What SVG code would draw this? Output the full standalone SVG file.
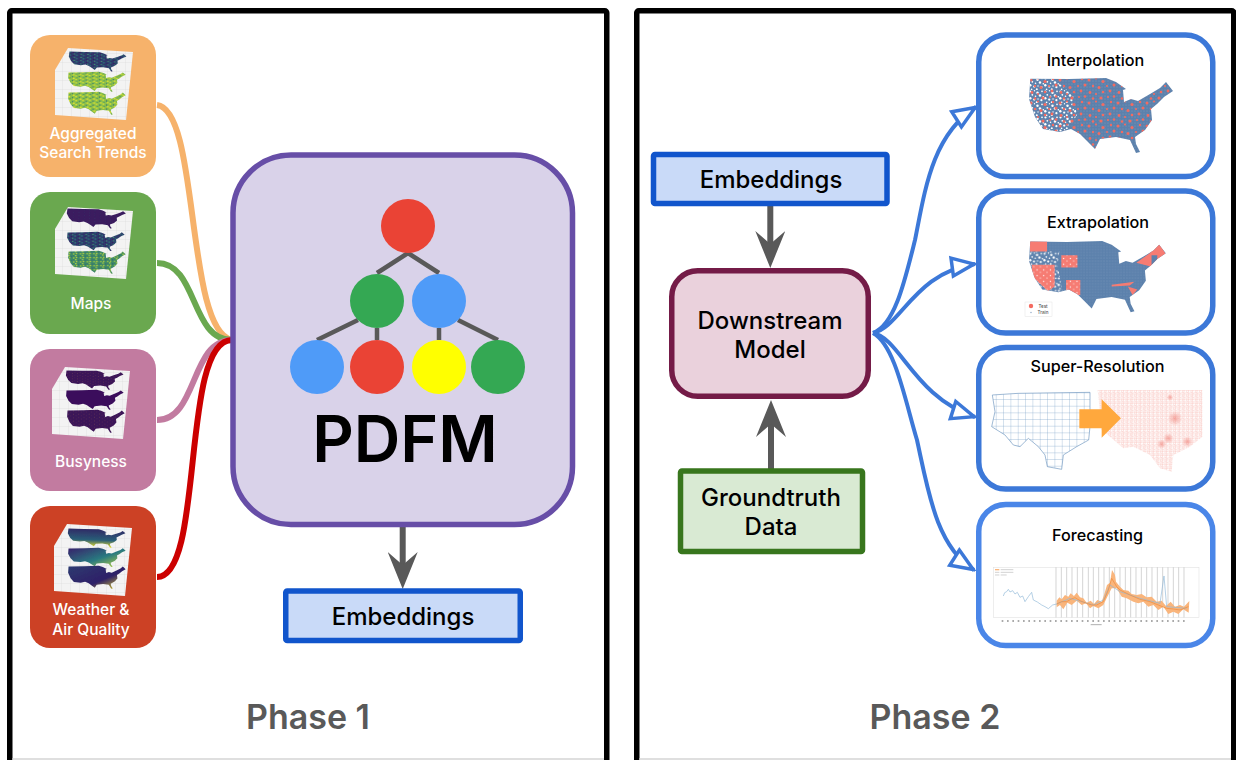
<svg xmlns="http://www.w3.org/2000/svg" width="1236" height="760" viewBox="0 0 1236 760">
<style>
text{font-family:"Inter","Liberation Sans",sans-serif;font-weight:500;text-anchor:middle;fill:#000}
.frame{fill:#fff;stroke:#000;stroke-width:5.5}
.src{stroke:none}
.lbl{fill:#fff;font-size:15.5px}
.emb{fill:#c9daf8;stroke:#1155cc;stroke-width:5.5}
.t23{font-size:24px}
.ttl{font-size:16.2px}
.phase{font-size:34px;font-weight:600;fill:#595959}
.out{fill:#fff;stroke:#3c78d8;stroke-width:5.5}
.wire{fill:none;stroke-width:6}
.gw{fill:none;stroke:#595959;stroke-width:6}
.bw{fill:none;stroke:#3c78d8;stroke-width:4}
.tree{stroke:#595959;stroke-width:4.5;fill:none}
</style>
<defs>
<filter id="soft" x="-5%" y="-5%" width="110%" height="110%"><feGaussianBlur stdDeviation="0.5"/></filter>
<path id="usa" d="M1.3 1.7L40 2L77 1L87 5L97 12L94 13L95 25L102 22L109 24L121 17L131 11L137 5L144 14L135 20L128 27L122 32L123 43L116 53L106 60L107 67L111 75L107 76L101 63L87 60L71 62L66 72L59 65L51 57L42 52L31 55L14 52L6 40L0 22Z"/>
<clipPath id="usaClip"><use href="#usa"/></clipPath>
<marker id="gh" viewBox="0 0 37 30" refX="19" refY="15" markerWidth="37" markerHeight="30" markerUnits="userSpaceOnUse" orient="auto"><path d="M0 0L37 15L0 30L13 15Z" fill="#595959"/></marker>
<marker id="bh" viewBox="0 0 28 24" refX="26" refY="12" markerWidth="28" markerHeight="24" markerUnits="userSpaceOnUse" orient="auto"><path d="M3 3L25 12L3 21Z" fill="#fff" stroke="#3c78d8" stroke-width="3.5"/></marker>
<pattern id="pGreen" width="17" height="13" patternUnits="userSpaceOnUse"><rect width="17" height="13" fill="#3f8a66"/><circle cx="2" cy="2" r="2.2" fill="#b5d43c"/><circle cx="9" cy="5" r="1.8" fill="#2e5c78"/><circle cx="4" cy="9" r="2" fill="#d3dc35"/><circle cx="14" cy="10" r="2.4" fill="#9cc844"/><circle cx="13" cy="2" r="1.5" fill="#2a6d74"/></pattern>
<pattern id="pYellow" width="17" height="13" patternUnits="userSpaceOnUse"><rect width="17" height="13" fill="#8cc04a"/><circle cx="3" cy="2" r="2.4" fill="#dfe02f"/><circle cx="11" cy="5" r="2" fill="#2a6d74"/><circle cx="5" cy="9" r="1.7" fill="#3f8a66"/><circle cx="14" cy="11" r="2.5" fill="#dfe02f"/></pattern>
<pattern id="pDark" width="17" height="13" patternUnits="userSpaceOnUse"><rect width="17" height="13" fill="#2c3f6e"/><circle cx="3" cy="3" r="2" fill="#2f8f78"/><circle cx="11" cy="5" r="2.2" fill="#3a1a5c"/><circle cx="6" cy="10" r="1.8" fill="#3a1a5c"/><circle cx="14" cy="11" r="1.7" fill="#4aa56e"/></pattern>
<pattern id="pPurple" width="13" height="11" patternUnits="userSpaceOnUse"><rect width="13" height="11" fill="#3a1a5e"/><circle cx="4" cy="5" r="1.6" fill="#2f3f6c"/></pattern>
<pattern id="pPlum" width="13" height="11" patternUnits="userSpaceOnUse"><rect width="13" height="11" fill="#3a1458"/><circle cx="3" cy="3" r="1.1" fill="#a06a50"/><circle cx="9" cy="8" r="1" fill="#8a5a58"/></pattern>
<linearGradient id="gWeather1" x1="0" y1="0" x2="0" y2="1"><stop offset="0" stop-color="#2f2a66"/><stop offset=".6" stop-color="#2b5f78"/><stop offset="1" stop-color="#e8dc2a"/></linearGradient>
<linearGradient id="gWeather2" x1="0" y1="0" x2="1" y2="1"><stop offset="0" stop-color="#36206a"/><stop offset=".55" stop-color="#2a7a80"/><stop offset="1" stop-color="#c9dc38"/></linearGradient>
<linearGradient id="gWeather3" x1="0" y1="0" x2="1" y2="1"><stop offset="0" stop-color="#2c3a70"/><stop offset=".6" stop-color="#2f2068"/><stop offset="1" stop-color="#f0e024"/></linearGradient>
<pattern id="boxGrid" width="9" height="9" patternUnits="userSpaceOnUse"><rect width="9" height="9" fill="#f3f3f3"/><path d="M9 0V9M0 9H9" stroke="#d6d6d6" stroke-width=".6"/></pattern>
<g id="cube"><path d="M68 48L133 52L126 120L55 115L55 70Z" fill="url(#boxGrid)"/></g>
<pattern id="pBlue" width="3" height="3" patternUnits="userSpaceOnUse"><rect width="3" height="3" fill="#5c81ac"/><circle cx="1" cy="1" r=".5" fill="#7f9cc0"/></pattern>
<pattern id="pRedSpot" width="29" height="23" patternUnits="userSpaceOnUse"><g fill="#f46a60"><circle cx="2" cy="3" r="1.5"/><circle cx="9" cy="1.5" r="1.1"/><circle cx="16" cy="4.5" r="1.6"/><circle cx="24" cy="2" r="1.2"/><circle cx="6" cy="9" r="1.2"/><circle cx="12" cy="10.5" r="1.5"/><circle cx="20" cy="9" r="1.1"/><circle cx="27" cy="8" r="1.5"/><circle cx="3" cy="15.5" r="1.4"/><circle cx="9" cy="17" r="1.1"/><circle cx="16" cy="15" r="1.3"/><circle cx="23" cy="14" r="1.4"/><circle cx="6" cy="21.5" r="1.3"/><circle cx="14" cy="21" r="1.6"/><circle cx="21" cy="20" r="1.1"/><circle cx="27" cy="19.5" r="1.3"/></g></pattern>
<pattern id="pWhite" width="15" height="13" patternUnits="userSpaceOnUse"><g fill="#fff"><circle cx="1.5" cy="1.5" r="1.1"/><circle cx="5.5" cy=".8" r=".7"/><circle cx="8.5" cy="2.8" r="1.2"/><circle cx="13" cy="1.4" r=".8"/><circle cx="3.3" cy="4.8" r=".9"/><circle cx="6.5" cy="6.2" r=".8"/><circle cx="11" cy="5.5" r="1.2"/><circle cx="14.3" cy="6.8" r=".8"/><circle cx="1.3" cy="8.2" r="1.2"/><circle cx="5.2" cy="9.6" r="1.1"/><circle cx="9" cy="9" r=".7"/><circle cx="12.4" cy="10.2" r="1.1"/><circle cx="2.6" cy="12.3" r=".8"/><circle cx="7.8" cy="12.3" r="1"/></g></pattern>
<pattern id="pRedW" width="7" height="6" patternUnits="userSpaceOnUse"><rect width="7" height="6" fill="#f67c73"/><circle cx="1.5" cy="1.5" r=".7" fill="#fff"/><circle cx="5" cy="4" r=".6" fill="#fff"/></pattern>
<pattern id="pCounty" width="22" height="20" patternUnits="userSpaceOnUse"><path d="M22 0V20M0 20H22" stroke="#6f97c0" stroke-width="1.8" fill="none"/></pattern>
<pattern id="pTract" width="13" height="13" patternUnits="userSpaceOnUse"><rect width="13" height="13" fill="#fff"/><path d="M0 3L6 1L13 5M4 13L6 1M0 8L13 9M10 0L9 13" stroke="#f8b9b2" stroke-width="1.2" fill="none"/></pattern>
<radialGradient id="glow"><stop offset="0" stop-color="#ef7a70" stop-opacity=".6"/><stop offset="1" stop-color="#ef7a70" stop-opacity="0"/></radialGradient>
</defs>

<rect width="1236" height="760" fill="#fff"/>
<g id="frames">
<rect class="frame" x="9.75" y="10.75" width="597" height="760" rx="2"/>
<rect class="frame" x="636.75" y="10.75" width="597" height="760" rx="2"/>
<rect x="12.5" y="758" width="591.5" height="2" fill="#dfdfdf"/>
<rect x="639.5" y="758" width="591.5" height="2" fill="#dfdfdf"/>
</g>

<g id="connectors">
<path class="wire" stroke="#f6b26b" d="M157 105C200 110 185 330 232 340"/>
<path class="wire" stroke="#6aa84f" d="M157 263C198 263 190 340 232 340"/>
<path class="wire" stroke="#c27ba0" d="M157 420C198 420 190 340 232 340"/>
<path class="wire" stroke="#cc0000" d="M157 577C205 577 180 340 232 340"/>
<path class="gw" d="M402.7 524V571" marker-end="url(#gh)"/>
<path class="gw" d="M770.3 204V250" marker-end="url(#gh)"/>
<path class="gw" d="M771 470V418" marker-end="url(#gh)"/>
<path class="bw" d="M873 333C895 325 905 280 915 240C925 190 932 135 976 107" marker-end="url(#bh)"/>
<path class="bw" d="M873 333C900 328 915 272 975 264" marker-end="url(#bh)"/>
<path class="bw" d="M873 333C900 338 915 398 975 417" marker-end="url(#bh)"/>
<path class="bw" d="M873 333C895 345 905 400 917 440C928 490 936 546 974 570" marker-end="url(#bh)"/>
</g>

<g id="node-search">
<rect class="src" x="30" y="35" width="126" height="142" rx="20" fill="#f6b26b"/>
<g filter="url(#soft)"><use href="#cube"/>
<use href="#usa" fill="url(#pDark)" transform="translate(69,51) rotate(2) scale(.4,.25)"/>
<use href="#usa" fill="url(#pYellow)" transform="translate(68,72) rotate(-1) scale(.4,.27)"/>
<use href="#usa" fill="url(#pYellow)" transform="translate(68,92) rotate(-1) scale(.4,.31)"/></g>
<text class="lbl" x="93" y="138.5">Aggregated</text><text class="lbl" x="93" y="158">Search Trends</text>
</g>
<g id="node-maps">
<rect class="src" x="30" y="192" width="126" height="142" rx="20" fill="#6aa84f"/>
<g filter="url(#soft)"><use href="#cube" y="159"/>
<use href="#usa" fill="url(#pPurple)" transform="translate(67,208) rotate(2) scale(.41,.25)"/>
<use href="#usa" fill="url(#pDark)" transform="translate(67,232) rotate(-1) scale(.4,.26)"/>
<use href="#usa" fill="url(#pGreen)" transform="translate(68,251) rotate(-1) scale(.4,.31)"/></g>
<text class="lbl" x="91" y="309">Maps</text>
</g>
<g id="node-busyness">
<rect class="src" x="30" y="349" width="126" height="142" rx="20" fill="#c27ba0"/>
<g filter="url(#soft)"><use href="#cube" x="-3" y="319"/>
<use href="#usa" fill="url(#pPlum)" transform="translate(66,370) rotate(1) scale(.4,.25)"/>
<use href="#usa" fill="#3a0f5c" transform="translate(66,390) rotate(-1) scale(.4,.27)"/>
<use href="#usa" fill="url(#pPlum)" transform="translate(67,410) rotate(-1) scale(.4,.31)"/></g>
<text class="lbl" x="91" y="467">Busyness</text>
</g>
<g id="node-weather">
<rect class="src" x="30" y="506" width="126" height="142" rx="20" fill="#cc4125"/>
<g filter="url(#soft)"><use href="#cube" x="-1" y="476"/>
<use href="#usa" fill="url(#gWeather1)" transform="translate(68,528) rotate(2) scale(.4,.24)"/>
<use href="#usa" fill="url(#gWeather2)" transform="translate(68,548) rotate(-1) scale(.4,.26)"/>
<use href="#usa" fill="url(#gWeather3)" transform="translate(68,566) rotate(-1) scale(.4,.31)"/></g>
<text class="lbl" x="91" y="615">Weather &amp;</text><text class="lbl" x="91" y="634.5">Air Quality</text>
</g>

<g id="node-pdfm">
<rect x="233" y="155" width="339.5" height="369.5" rx="58" fill="#d9d2e9" stroke="#674ea7" stroke-width="5.5"/>
<path class="tree" d="M377 273L408 253L439 273M358 320L317 340M377 328V340M439 328V340M458 320L498 340"/>
<circle cx="408" cy="226" r="27" fill="#ea4335"/>
<circle cx="377" cy="301" r="27" fill="#34a853"/><circle cx="439" cy="301" r="27" fill="#4f9bf8"/>
<circle cx="317" cy="367" r="27" fill="#4f9bf8"/><circle cx="377" cy="367" r="27" fill="#ea4335"/>
<circle cx="439" cy="367" r="27" fill="#ffff00"/><circle cx="498" cy="367" r="27" fill="#34a853"/>
<text x="405" y="462" style="font-size:64.5px;font-weight:600">PDFM</text>
</g>

<g id="node-embeddings-1">
<rect class="emb" x="285.75" y="591" width="234.5" height="49.5" rx="1.5"/>
<text class="t23" x="403" y="624.5">Embeddings</text>
</g>
<text class="phase" x="308" y="729">Phase 1</text>

<g id="node-embeddings-2">
<rect class="emb" x="653.5" y="154.5" width="233.5" height="49" rx="1.5"/>
<text class="t23" x="771" y="187.5">Embeddings</text>
</g>
<g id="node-downstream">
<rect x="671.75" y="270.75" width="196.5" height="125.5" rx="26" fill="#ead1dc" stroke="#741b47" stroke-width="5.5"/>
<text class="t23" x="770" y="328.5">Downstream</text><text class="t23" x="770" y="357.5">Model</text>
</g>
<g id="node-groundtruth">
<rect x="680.5" y="471" width="182" height="80.5" rx="1.5" fill="#d9ead3" stroke="#38761d" stroke-width="5.5"/>
<text class="t23" x="771" y="506">Groundtruth</text><text class="t23" x="771" y="534.5">Data</text>
</g>
<text class="phase" x="935" y="729">Phase 2</text>

<g id="node-interpolation">
<rect class="out" x="978.75" y="35" width="234" height="141.5" rx="27"/>
<text class="ttl" x="1095.5" y="65.5">Interpolation</text>
<g filter="url(#soft)" transform="translate(1029,77)">
<use href="#usa" fill="url(#pBlue)"/>
<g clip-path="url(#usaClip)">
<path d="M0 0H22L44 18L48 38L36 56H0Z" fill="url(#pWhite)"/>
<use href="#usa" fill="url(#pRedSpot)"/>
</g></g>
</g>
<g id="node-extrapolation">
<rect class="out" x="978.75" y="191" width="234" height="142" rx="27"/>
<text class="ttl" x="1098" y="227.5">Extrapolation</text>
<g filter="url(#soft)" transform="translate(1029,240) scale(.95)">
<use href="#usa" fill="url(#pBlue)"/>
<g clip-path="url(#usaClip)">
<path d="M0 12H32L30 26L36 58L14 58L0 30Z" fill="url(#pWhite)"/>
<path d="M34 16H51V29H34ZM39 42H54V58H39ZM3 26H27V49L20 54L3 38Z" fill="url(#pRedW)"/>
<path d="M1 0H19V12H1ZM113 24L127 14L137 3L144 15L134 26L128 28ZM87 47L111 44L106 48L87 49ZM104 49L114 52L109 58Z" fill="#f67c73"/>
<path d="M129 16H135V26H129Z" fill="#5c81ac"/>
</g></g>
<g transform="translate(1025,302)">
<rect width="27" height="14.5" fill="#fff" stroke="#e4e4e4" stroke-width=".5"/>
<circle cx="6" cy="4" r="2.2" fill="#f46a60"/><circle cx="6" cy="10.5" r=".8" fill="#9fb4cf"/>
<text x="18" y="5.5" style="font-size:4.5px;fill:#555">Test</text><text x="18" y="12" style="font-size:4.5px;fill:#555">Train</text>
</g>
</g>
<g id="node-superres">
<rect class="out" x="978.75" y="347.5" width="234" height="141.5" rx="27"/>
<text class="ttl" x="1097.5" y="372">Super-Resolution</text>
<g filter="url(#soft)" transform="translate(960,340) scale(.33333)">
<path d="M97 165L175 160L390 157L390 260L386 300L350 320L310 345L305 388L262 380L255 345L235 320L205 295L180 320L160 315L135 285L95 260L105 215Z" fill="url(#pCounty)" stroke="#6f97c0" stroke-width="2"/>
<path d="M413 150L727 150L727 290L690 320L640 345L635 395L600 385L570 345L520 320L490 325L450 290L425 270Z" fill="url(#pTract)"/>
<circle cx="645" cy="235" r="22" fill="url(#glow)"/><circle cx="625" cy="295" r="16" fill="url(#glow)"/><circle cx="682" cy="305" r="16" fill="url(#glow)"/><circle cx="605" cy="312" r="14" fill="url(#glow)"/><circle cx="630" cy="172" r="10" fill="url(#glow)"/>
<path d="M358 208H425V178L483 235L425 293V265H358Z" fill="#ffa83c"/>
</g>
</g>
<g id="node-forecasting">
<rect class="out" x="978.75" y="504.5" width="234" height="141" rx="27" style="stroke:#4a86e8"/>
<text class="ttl" x="1097.5" y="541">Forecasting</text>
<g filter="url(#soft)" transform="translate(960,340) scale(.33333)" fill="none">
<rect x="100" y="682" width="617" height="150" stroke="#dcdcdc" stroke-width="1.5"/>
<path stroke="#a8a8a8" stroke-width="1.5" d="M288 682V832M304 682V832M320 682V832M336 682V832M352 682V832M368 682V832M385 682V832M400 682V832M416 682V832M432 682V832M448 682V832M464 682V832M480 682V832M496 682V832M512 682V832M528 682V832M544 682V832M560 682V832M576 682V832M592 682V832M608 682V832M624 682V832M640 682V832M656 682V832M672 682V832"/>
<path d="M290 782L298 772L305 778L315 765L325 770L332 760L342 768L350 758L360 772L370 775L380 788L392 782L402 792L412 780L425 785L433 762L441 735L450 728L456 690L465 705L468 725L480 740L490 750L505 752L515 762L530 765L545 762L560 772L575 770L590 785L605 782L618 798L632 785L645 800L660 795L672 800L688 783L686 818L670 808L655 822L640 815L625 822L610 800L595 810L580 795L565 800L550 785L535 790L520 785L500 775L485 770L470 745L455 745L442 770L430 795L415 805L400 798L390 805L378 790L365 795L350 782L335 795L322 788L310 808L300 795L290 802Z" fill="#f9b57c"/>
<path stroke="#8fb8d8" stroke-width="2" d="M130 768L134 758L140 755L145 748L150 756L158 752L165 762L172 757L180 772L188 768L195 785L205 770L215 757L220 780L232 786L245 795L255 800L265 806L278 795L290 792L330 775L400 795L430 780L450 735L480 755L540 775L600 790L612 708L620 800L680 805"/>
<path stroke="#ef8a3a" stroke-width="2" d="M290 792L305 785L320 785L332 778L345 773L362 783L380 790L395 795L410 795L430 785L445 750L455 715L470 740L480 750L510 765L540 778L570 785L600 797L620 805L640 807L660 810L685 800"/>
<path stroke="#aaa" stroke-width="6" stroke-dasharray="5 11" d="M125 843H682"/>
<path stroke="#888" stroke-width="2" d="M392 854H425"/>
<path stroke="#f9b57c" stroke-width="4" d="M105 689H118"/><path stroke="#bbb" stroke-width="2" d="M105 697H118M105 705H118M122 689H160M122 697H160M122 705H140"/>
</g>
</g>
</svg>
